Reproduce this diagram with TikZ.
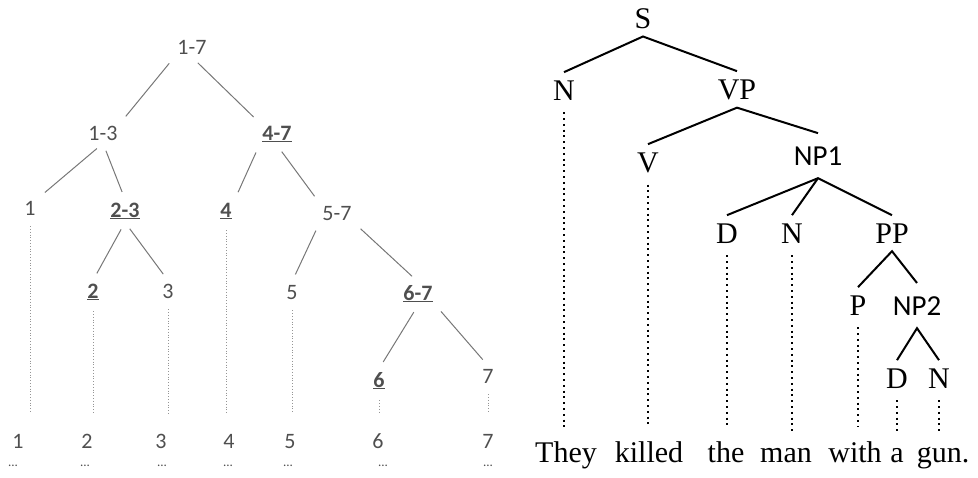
\documentclass[tikz,border=0pt]{standalone}
\usepackage{fontspec}
\setmainfont{Liberation Serif}
\newfontfamily\calib{Carlito}
\usepackage{tikz}
\definecolor{numgray}{HTML}{4F4F4F}
\definecolor{edgegray}{HTML}{777777}
\definecolor{dotgray}{HTML}{959595}

\begin{document}
\begin{tikzpicture}[x=1pt, y=-1pt,
    num/.style={anchor=base, inner sep=3pt, text=numgray, font=\calib\fontsize{22}{22}\selectfont},
    key/.style={num, font=\calib\bfseries\fontsize{22}{22}\selectfont},
    more/.style={anchor=base, inner sep=1pt, text=numgray, font=\calib\fontsize{13}{13}\selectfont},
    edge/.style={draw=edgegray, line width=1pt, shorten <=8pt, shorten >=8pt},
    fine/.style={draw=dotgray, line width=1pt, dash pattern=on 1pt off 1.8pt, shorten <=8pt, shorten >=17pt},
    cat/.style={anchor=base, inner sep=8pt, font=\fontsize{30}{30}\selectfont},
    phr/.style={anchor=base, inner xsep=4pt, inner ysep=13pt, font=\calib\fontsize{29}{29}\selectfont},
    word/.style={anchor=base, inner sep=2pt, font=\fontsize{30}{30}\selectfont},
    branch/.style={line width=2pt},
    trace/.style={line width=1.8pt, dash pattern=on 2pt off 3.8pt, shorten <=4pt, shorten >=12pt}]
\useasboundingbox (0,0) rectangle (978,477);

\node[num] (t17) at (192,54) {1-7};
\node[num] (t13) at (103,140) {1-3};
\node[key] (t47) at (277,140) {\underline{4-7}};
\node[num] (l1) at (30,215) {1};
\node[key] (t23) at (125,217) {\underline{2-3}};
\node[key] (l4) at (226,217) {\underline{4}};
\node[num] (t57) at (337,220) {5-7};
\node[key] (l2) at (93,298) {\underline{2}};
\node[num] (l3) at (168,298) {3};
\node[num] (l5) at (292,299) {5};
\node[key] (t67) at (418,300) {\underline{6-7}};
\node[key] (l6) at (379,387) {\underline{6}};
\node[num] (l7) at (488,383) {7};

\node[num] (b1) at (18,448) {1};
\node[num] (b2) at (87,448) {2};
\node[num] (b3) at (161,448) {3};
\node[num] (b4) at (229,448) {4};
\node[num] (b5) at (290,448) {5};
\node[num] (b6) at (378,448) {6};
\node[num] (b7) at (488,448) {7};
\node[more] (e1) at (13,466) {...};
\node[more] (e2) at (85,466) {...};
\node[more] (e3) at (162,466) {...};
\node[more] (e4) at (228,466) {...};
\node[more] (e5) at (288,466) {...};
\node[more] (e6) at (383,466) {...};
\node[more] (e7) at (488,466) {...};

\draw[edge] (t17.south west) -- (t13.north east);
\draw[edge] (t17.south) -- (t47.north west);
\draw[edge] (t13.south) -- (l1.north east);
\draw[edge] (t13.south) -- (t23.north);
\draw[edge] (t47.south west) -- (l4.north east);
\draw[edge] (t47.south) -- (t57.north west);
\draw[edge] (t23.south) -- (l2.north);
\draw[edge] (t23.south) -- (l3.north);
\draw[edge] (t57.south west) -- (l5.north);
\draw[edge] (t57.south east) -- (t67.north);
\draw[edge] (t67.south) -- (l6.north);
\draw[edge] (t67.south east) -- (l7.north);

\draw[fine] (l1.south) -- (l1 |- b1.north);
\draw[fine] (l2.south) -- (l2 |- b2.north);
\draw[fine] (l3.south) -- (l3 |- b3.north);
\draw[fine] (l4.south) -- (l4 |- b4.north);
\draw[fine] (l5.south) -- (l5 |- b5.north);
\draw[fine] (l6.south) -- (l6 |- b6.north);
\draw[fine] (l7.south) -- (l7 |- b7.north);

\node[cat] (s) at (643,28) {S};
\node[cat] (n) at (564,100) {N};
\node[cat] (vp) at (737,99) {VP};
\node[cat] (v) at (648,172) {V};
\node[phr] (npa) at (818,165) {NP1};
\node[cat] (da) at (727,243) {D};
\node[cat] (na) at (792,243) {N};
\node[cat] (pp) at (892,243) {PP};
\node[cat] (p) at (858,315) {P};
\node[phr] (npb) at (917,315) {NP2};
\node[cat] (db) at (897,388) {D};
\node[cat] (nb) at (939,388) {N};

\node[word] (w1) at (566,462) {They};
\node[word] (w2) at (649,462) {killed};
\node[word] (w3) at (726,462) {the};
\node[word] (w4) at (786,462) {man};
\node[word] (w5) at (855,462) {with};
\node[word] (w6) at (897,462) {a};
\node[word] (w7) at (943,462) {gun.};

\draw[branch] (n.north) -- (s.south) -- (vp.north);
\draw[branch] (v.north) -- (vp.south) -- (npa.north);
\draw[branch] (da.north) -- (npa.south) -- (pp.north);
\draw[branch] (npa.south) -- (na.north);
\draw[branch] (p.north) -- (pp.south) -- (npb.north);
\draw[branch] (db.north) -- (npb.south) -- (nb.north);

\draw[trace] (n.south) -- (n |- w1.north);
\draw[trace] (v.south) -- (v |- w2.north);
\draw[trace] (da.south) -- (da |- w3.north);
\draw[trace] (na.south) -- (na |- w4.north);
\draw[trace] (p.south) -- (p |- w5.north);
\draw[trace] (db.south) -- (db |- w6.north);
\draw[trace] (nb.south) -- (nb |- w7.north);
\end{tikzpicture}
\end{document}
